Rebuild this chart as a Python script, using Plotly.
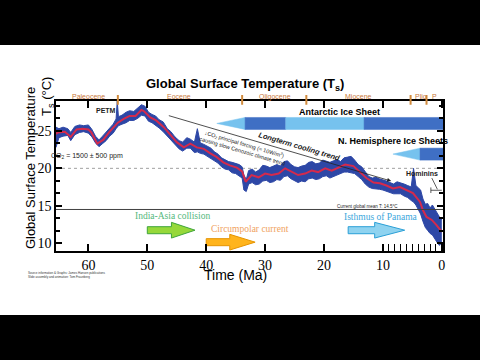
import plotly.graph_objects as go

# ---------------- data ----------------
red_ma = [65.5, 65.2, 64.0, 63.0, 62.0, 61.0, 60.0, 59.5, 58.5, 57.5, 56.5, 55.5, 55.0, 54.0, 53.0, 52.0,
          51.0, 50.5, 49.5, 48.5, 47.2, 46.0, 45.0, 43.8, 42.7, 41.6, 40.4, 39.3, 38.2, 37.1, 36.0, 34.8,
          33.9, 33.3, 32.3, 31.1, 30.0, 28.9, 27.7, 26.6, 25.5, 24.4, 23.2, 22.1, 21.0, 19.8, 18.7, 17.6,
          16.4, 15.0, 13.9, 12.8, 11.6, 10.5, 9.4, 8.3, 7.1, 6.0, 4.9, 3.7, 3.2, 2.6, 1.7, 0.9, 0.3, 0.0]
red_t = [24.6, 24.8, 24.9, 24.2, 25.2, 25.3, 25.2, 24.8, 23.3, 23.8, 24.8, 25.6, 26.1, 26.6, 27.0, 27.0,
         27.8, 27.6, 26.8, 26.4, 25.5, 24.4, 23.5, 22.8, 23.3, 22.8, 22.6, 22.0, 21.5, 20.8, 20.4, 20.1,
         19.6, 18.2, 19.1, 18.8, 19.3, 19.1, 19.3, 20.0, 19.5, 19.1, 19.3, 19.7, 19.5, 20.0, 19.7, 20.1,
         20.5, 20.3, 19.5, 18.7, 18.1, 18.0, 17.7, 17.3, 17.5, 17.1, 16.7, 15.5, 14.4, 13.5, 13.1, 12.4, 11.7, 11.5]

blue_ma = [65.5, 65.0, 64.3, 63.5, 63.0, 62.3, 61.5, 60.8, 60.0, 59.4, 58.8, 58.2, 57.6, 57.0, 56.4, 55.8,
           55.3, 55.1, 54.9, 54.3, 53.6, 53.0, 52.3, 51.6, 51.0, 50.4, 49.8, 49.2, 48.6, 48.0, 47.3, 46.6,
           46.0, 45.3, 44.6, 44.0, 43.3, 42.7, 42.0, 41.5, 41.0, 40.4, 39.8, 39.2, 38.6, 38.0, 37.4, 36.8,
           36.2, 35.6, 35.0, 34.4, 33.9, 33.6, 33.2, 32.8, 32.2, 31.6, 31.0, 30.4, 29.8, 29.2, 28.6, 28.0,
           27.4, 26.8, 26.2, 25.6, 25.0, 24.4, 23.8, 23.2, 22.6, 22.0, 21.4, 20.8, 20.2, 19.6, 19.0, 18.4,
           17.8, 17.2, 16.6, 16.0, 15.4, 14.8, 14.2, 13.6, 13.0, 12.4, 11.8, 11.2, 10.6, 10.0, 9.4, 8.8,
           8.2, 7.6, 7.0, 6.4, 5.8, 5.2, 4.8, 4.4, 4.0, 3.6, 3.2, 2.8, 2.4, 2.0, 1.6, 1.2, 0.8, 0.4, 0.0]
blue_lo = [22.8, 24.1, 24.3, 24.4, 23.7, 24.5, 24.8, 24.9, 24.7, 24.2, 23.4, 22.9, 23.3, 23.7, 24.3, 24.7,
           25.3, 25.6, 25.7, 25.9, 26.1, 26.4, 26.4, 26.7, 27.1, 27.0, 26.3, 26.1, 25.8, 25.4, 24.9, 24.3,
           23.7, 23.1, 22.6, 22.3, 22.7, 22.7, 22.1, 22.2, 22.0, 21.9, 21.6, 21.3, 20.9, 20.7, 20.2, 19.9,
           19.8, 19.4, 19.3, 19.0, 18.7, 17.1, 16.9, 17.9, 18.1, 17.8, 17.9, 18.3, 18.4, 18.1, 18.2, 18.5,
           18.4, 18.9, 19.0, 18.6, 18.4, 18.1, 18.3, 18.2, 18.6, 18.7, 18.5, 18.6, 18.9, 19.0, 18.7, 18.9,
           19.1, 19.2, 19.5, 19.5, 19.4, 19.3, 18.9, 18.5, 17.9, 17.5, 17.3, 17.3, 17.2, 17.1, 16.9, 16.7,
           16.6, 16.6, 16.6, 16.3, 16.1, 15.7, 15.5, 15.1, 14.5, 13.9, 12.9, 12.1, 11.7, 11.3, 11.1, 10.5, 10.1, 9.7, 10.1]
blue_hi = [25.5, 25.3, 25.5, 25.3, 24.8, 25.6, 25.8, 25.7, 25.8, 25.2, 24.3, 23.8, 24.3, 24.8, 25.3, 25.9,
           26.6, 29.0, 26.9, 27.1, 27.5, 27.7, 27.6, 28.1, 28.5, 28.3, 27.5, 27.2, 27.0, 26.5, 26.2, 25.3,
           24.9, 24.2, 23.7, 23.5, 24.1, 23.9, 23.5, 25.3, 23.4, 23.2, 22.9, 22.7, 22.2, 21.9, 21.4, 21.1,
           20.9, 20.8, 20.7, 20.5, 20.2, 19.1, 18.5, 19.7, 19.9, 19.5, 19.8, 20.4, 20.3, 20.1, 20.3, 20.5,
           20.3, 20.9, 21.0, 20.5, 20.2, 20.1, 20.3, 20.4, 20.8, 20.9, 20.6, 20.7, 21.1, 20.9, 20.8, 21.0,
           21.2, 20.9, 21.4, 21.5, 21.6, 21.1, 20.5, 20.2, 19.5, 18.9, 18.7, 18.8, 18.6, 18.5, 18.3, 18.1,
           17.9, 18.2, 18.1, 17.9, 17.7, 17.5, 20.0, 17.7, 17.4, 17.1, 15.9, 15.2, 15.3, 14.7, 15.1, 14.5, 13.9, 13.5, 13.1]

x_ticks = [60, 50, 40, 30, 20, 10, 0]
x_minor = [9, 8, 7, 6, 5, 4, 3, 2, 1]
y_ticks = [10, 15, 20, 25]

epoch_names = ["Paleocene", "Eocene", "Oligocene", "Miocene", "Plio", "P"]
epoch_label_ma = [60.0, 44.7, 28.3, 14.2, 3.6, 1.3]
epoch_bounds = [55.0, 33.9, 23.0, 5.3, 2.6]

# ice sheets: segments (start Ma, end Ma, style)
ant_start = [38.2, 33.4, 26.5, 13.2]
ant_end = [33.4, 26.5, 13.2, -0.2]
ant_kind = ["taper", "dark", "light", "dark"]
ant_lo, ant_hi = 25.2, 26.8
nh_start = [8.3, 3.7]
nh_end = [3.7, -0.2]
nh_kind = ["taper", "dark"]
nh_lo, nh_hi = 21.1, 22.7

# event arrows
arrow_names = ["India-Asia collision", "Circumpolar current", "Isthmus of Panama"]
arrow_start = [50.0, 40.0, 15.9]
arrow_head = [45.9, 36.0, 11.4]
arrow_end = [41.9, 31.7, 6.3]
arrow_y = [11.73, 10.13, 11.73]
arrow_fill = ["#96d83a", "#ffb41c", "#8fd3f0"]
arrow_line = ["#3fa53a", "#e59400", "#2a9fd6"]
arrow_text_col = ["#52b87c", "#f0a25e", "#3aa6dc"]
arrow_text_ma = [45.8, 32.6, 10.3]
arrow_text_y = [13.6, 11.9, 13.5]

BLUE = "#2d47a6"
RED = "#d42a4c"
LIGHT = "#76c2ee"
DARK = "#3f6fc4"

fig = go.Figure()

# blue band
fig.add_trace(go.Scatter(x=blue_ma, y=blue_hi, mode="lines", line=dict(color=BLUE, width=1),
                         hoverinfo="skip", showlegend=False))
fig.add_trace(go.Scatter(x=blue_ma, y=blue_lo, mode="lines", line=dict(color=BLUE, width=1),
                         fill="tonexty", fillcolor=BLUE, hoverinfo="skip", showlegend=False))
# red smoothed
fig.add_trace(go.Scatter(x=red_ma, y=red_t, mode="lines", line=dict(color=RED, width=2),
                         showlegend=False))


def ice(starts, ends, kinds, lo, hi):
    mid = (lo + hi) / 2
    for s, e, k in zip(starts, ends, kinds):
        if k == "taper":
            xs = [s, e, e, s]
            ys = [mid, hi, lo, mid]
            col = LIGHT
        else:
            xs = [s, e, e, s, s]
            ys = [lo, lo, hi, hi, lo]
            col = DARK if k == "dark" else LIGHT
        fig.add_trace(go.Scatter(x=xs, y=ys, mode="lines", fill="toself", fillcolor=col,
                                 line=dict(color=col, width=0.5), hoverinfo="skip", showlegend=False))


ice(ant_start, ant_end, ant_kind, ant_lo, ant_hi)
ice(nh_start, nh_end, nh_kind, nh_lo, nh_hi)

for s, h, e, cy, fc, lc in zip(arrow_start, arrow_head, arrow_end, arrow_y, arrow_fill, arrow_line):
    sh, hh = 0.47, 1.05
    xs = [s, h, h, e, h, h, s, s]
    ys = [cy + sh, cy + sh, cy + hh, cy, cy - hh, cy - sh, cy - sh, cy + sh]
    fig.add_trace(go.Scatter(x=xs, y=ys, mode="lines", fill="toself", fillcolor=fc,
                             line=dict(color=lc, width=1), hoverinfo="skip", showlegend=False))

# minor bottom ticks axis
fig.add_trace(go.Scatter(x=[5], y=[20], xaxis="x2", mode="markers", marker=dict(opacity=0),
                         hoverinfo="skip", showlegend=False))

shapes = []
# black bars
shapes.append(dict(type="rect", xref="paper", yref="paper", x0=-0.2, x1=1.2, y0=1.3733, y1=1.8,
                   fillcolor="black", line=dict(width=0), layer="above"))
shapes.append(dict(type="rect", xref="paper", yref="paper", x0=-0.2, x1=1.2, y0=-0.4267, y1=-0.9,
                   fillcolor="black", line=dict(width=0), layer="above"))
# reference lines
shapes.append(dict(type="line", xref="paper", yref="y", x0=0, x1=1, y0=20, y1=20,
                   line=dict(color="#a0a0a0", width=1, dash="dot"), layer="below"))
shapes.append(dict(type="line", xref="paper", yref="y", x0=0, x1=1, y0=14.5, y1=14.5,
                   line=dict(color="#404040", width=1)))
# epoch boundary ticks
for b in epoch_bounds:
    shapes.append(dict(type="line", xref="x", yref="paper", x0=b, x1=b, y0=0.975, y1=1.04,
                       line=dict(color="#d08a3c", width=2)))
# hominins bracket
shapes.append(dict(type="line", xref="x", yref="y", x0=1.7, x1=0.75, y0=18.7, y1=17.2,
                   line=dict(color="#333", width=0.8)))
shapes.append(dict(type="line", xref="x", yref="y", x0=1.86, x1=0.0, y0=17.07, y1=17.07,
                   line=dict(color="#333", width=0.8)))
shapes.append(dict(type="line", xref="x", yref="y", x0=1.86, x1=1.86, y0=16.7, y1=17.45,
                   line=dict(color="#333", width=0.8)))

C = dict(xanchor="center", yanchor="middle", showarrow=False)
ann = []
ann.append(dict(text="<b>Global Surface Temperature (T<sub>s</sub>)</b>", xref="paper", yref="paper",
                x=0.488, y=1.107, font=dict(size=13, color="black", family="Arial"), **C))
for n, m in zip(epoch_names, epoch_label_ma):
    ann.append(dict(text=n, xref="x", yref="paper", x=m, y=1.027,
                    font=dict(size=7, color="#c8763a", family="Arial"), **C))
ann.append(dict(text="Global Surface Temperature", xref="paper", yref="paper", x=-0.067, y=0.553,
                textangle=-90, font=dict(size=13, color="black", family="Arial"), **C))
ann.append(dict(text="T<sub>s</sub> (°C)", xref="paper", yref="paper", x=-0.022, y=1.03,
                textangle=-90, font=dict(size=13, color="black", family="Arial"), **C))
ann.append(dict(text="Time (Ma)", xref="paper", yref="paper", x=0.465, y=-0.158,
                font=dict(size=14, color="black", family="Arial"), **C))
ann.append(dict(text="Source information &amp; Graphs: James Hansen publications<br>Slide assembly and animation: Tom Fraunberg",
                xref="paper", yref="paper", x=-0.078, y=-0.162, xanchor="left", yanchor="middle", align="left",
                showarrow=False, font=dict(size=3, color="#333", family="Arial")))
ann.append(dict(text="<b>PETM</b>", xref="x", yref="y", x=57.0, y=27.7,
                font=dict(size=7, color="#222", family="Arial"), **C))
ann.append(dict(text="CO<sub>2</sub> = 1500 ± 500 ppm", xref="x", yref="y", x=60.3, y=21.6,
                font=dict(size=7, color="#222", family="Arial"), **C))
ann.append(dict(text="<b>Antarctic Ice Sheet</b>", xref="x", yref="y", x=17.3, y=27.5,
                font=dict(size=9, color="black", family="Arial"), **C))
ann.append(dict(text="<b>N. Hemisphere Ice Sheets</b>", xref="x", yref="y", x=8.3, y=23.7,
                font=dict(size=9, color="black", family="Arial"), **C))
ann.append(dict(text="<b>Hominins</b>", xref="x", yref="y", x=3.4, y=19.3,
                font=dict(size=7, color="#222", family="Arial"), **C))
ann.append(dict(text="Current global mean T: 14.5°C", xref="x", yref="y", x=12.7, y=14.85,
                font=dict(size=4.5, color="#222", family="Arial"), **C))
# long-term cooling trend arrow
ann.append(dict(text="", x=8.6, y=18.3, ax=46.6, ay=27.1, xref="x", yref="y", axref="x", ayref="y",
                showarrow=True, arrowhead=2, arrowsize=1, arrowwidth=0.8, arrowcolor="#222"))
ann.append(dict(text="<b><i>Longterm cooling trend</i></b>", xref="x", yref="y", x=24.2, y=22.9,
                textangle=16.5, font=dict(size=7.5, color="#222", family="Arial"), **C))
ann.append(dict(text="↓CO<sub>2</sub> principal forcing (≈ 10W/m<sup>2</sup>)<br>causing slow Cenozoic climate trend",
                xref="x", yref="y", x=33.6, y=22.8, textangle=16.5,
                font=dict(size=5.5, color="#222", family="Arial"), **C))
for n, m, yy, c in zip(arrow_names, arrow_text_ma, arrow_text_y, arrow_text_col):
    ann.append(dict(text=n, xref="x", yref="y", x=m, y=yy,
                    font=dict(size=9.5, color=c, family="Liberation Serif"), **C))

fig.update_layout(
    width=480, height=360,
    margin=dict(l=56, r=37, t=101, b=109),
    paper_bgcolor="white", plot_bgcolor="white",
    showlegend=False,
    shapes=shapes, annotations=ann,
    xaxis=dict(range=[65.5, -0.2], tickvals=x_ticks, ticktext=[str(v) for v in x_ticks],
               ticks="inside", ticklen=7, tickwidth=1.5, tickcolor="black",
               showline=True, linecolor="black", linewidth=1.5, mirror="ticks",
               showgrid=False, zeroline=False,
               tickfont=dict(family="Liberation Serif", size=14, color="black")),
    xaxis2=dict(range=[65.5, -0.2], overlaying="x", side="bottom", tickvals=x_minor,
                ticks="inside", ticklen=7, tickwidth=1, tickcolor="black",
                showticklabels=False, showgrid=False, zeroline=False, showline=False),
    yaxis=dict(range=[8.95, 29.0], tickvals=y_ticks, ticks="inside", ticklen=6, tickwidth=1.5,
               tickcolor="black", showline=True, linecolor="black", linewidth=1.5, mirror="ticks",
               showgrid=False, zeroline=False,
               minor=dict(ticks="inside", ticklen=4, tick0=10, dtick=5 / 3, tickcolor="black", showgrid=False),
               tickfont=dict(family="Liberation Serif", size=14, color="black")),
)

fig.write_html("out.html", config={"displayModeBar": False},
               post_script="document.body.style.margin='0';document.body.style.padding='0';")
